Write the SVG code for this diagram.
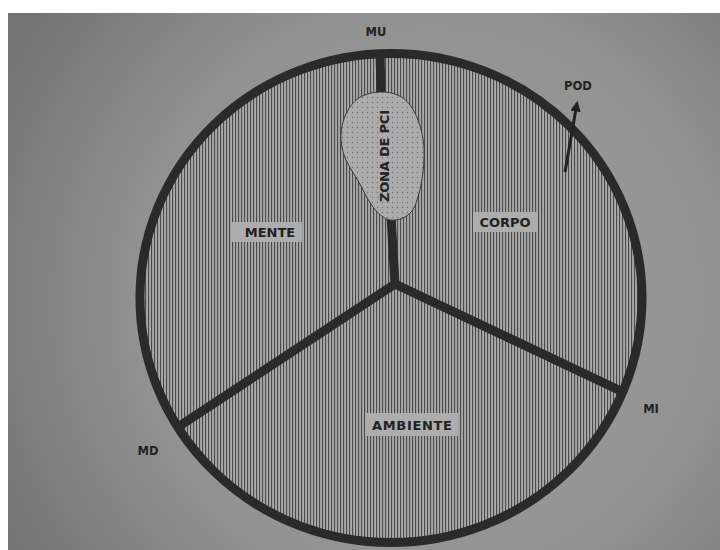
<svg xmlns="http://www.w3.org/2000/svg" width="720" height="550" viewBox="0 0 720 550">
  <defs>
    <radialGradient id="bg" cx="430" cy="300" r="480" gradientUnits="userSpaceOnUse">
      <stop offset="0" stop-color="#a0a0a0"/>
      <stop offset="0.6" stop-color="#929292"/>
      <stop offset="1" stop-color="#747474"/>
    </radialGradient>
    <pattern id="hatch" patternUnits="userSpaceOnUse" width="3" height="10">
      <rect width="3" height="10" fill="#a8a8a8"/>
      <rect x="1" width="1.1" height="10" fill="#4a4a4a"/>
    </pattern>
    <pattern id="dots" patternUnits="userSpaceOnUse" width="5" height="5">
      <rect width="5" height="5" fill="#acacac"/>
      <circle cx="2.5" cy="2.5" r="0.7" fill="#707070"/>
    </pattern>
    <marker id="arrow" viewBox="0 0 10 10" refX="8" refY="5" markerWidth="3.5" markerHeight="3.5" orient="auto">
      <path d="M0,0 L10,5 L0,10 Z" fill="#222222"/>
    </marker>
    <style>
      .sector { fill: url(#hatch); stroke: none; }
      .lbl { font-family: "DejaVu Sans", "Liberation Sans", sans-serif; font-weight: bold; font-size: 13px; fill: #222222; text-anchor: middle; }
      .small { font-size: 11.5px; }
      .box { fill: #adadad; }
      .div { stroke: #2a2a2a; stroke-width: 9; fill: none; stroke-linecap: butt; stroke-linejoin: round; }
    </style>
  </defs>

  <rect width="720" height="550" fill="#ffffff"/>
  <rect x="8" y="13" width="712" height="537" fill="url(#bg)"/>

  <g id="mente">
    <path class="sector" d="M395,284 L380,53 A251,244.5 0 0 0 178,427 Z"/>
    <rect class="box" x="232" y="222" width="70" height="20"/>
    <text class="lbl" x="270" y="237">MENTE</text>
  </g>
  <g id="corpo">
    <path class="sector" d="M395,284 L380,53 A251,244.5 0 0 1 623,392 Z"/>
    <rect class="box" x="473" y="212" width="64" height="20"/>
    <text class="lbl" x="505" y="227">CORPO</text>
  </g>
  <g id="ambiente">
    <path class="sector" d="M395,284 L623,392 A251,244.5 0 0 1 178,427 Z"/>
    <rect class="box" x="365" y="413" width="93" height="23"/>
    <text class="lbl" x="412" y="430" textLength="80">AMBIENTE</text>
  </g>

  <g id="connectors">
    <ellipse cx="391" cy="298" rx="251" ry="244.5" fill="none" stroke="#2a2a2a" stroke-width="9"/>
    <path class="div" d="M380,52 L381,96"/>
    <path class="div" d="M391,216 L395,284"/>
    <path class="div" d="M178,427 L395,284 L623,392"/>
    <line x1="565" y1="172" x2="577" y2="103" stroke="#222222" stroke-width="3" marker-end="url(#arrow)"/>
  </g>

  <g id="zona-pci">
    <path d="M383,92 C392,92 398,95 403,98 C414,106 422,125 424,147 C425,170 420,195 414,208 C408,218 398,221 390,220 C380,218 370,205 362,188 C354,172 342,160 341,140 C340,120 350,100 365,95 C372,92 378,92 383,92 Z" fill="url(#dots)" stroke="#3a3a3a" stroke-width="1"/>
    <text class="lbl" x="0" y="0" transform="translate(389,156) rotate(-90)" style="font-size:13px" textLength="92">ZONA DE PCI</text>
  </g>

  <g id="mu"><text class="lbl small" x="376" y="36">MU</text></g>
  <g id="pod"><text class="lbl small" x="578" y="90">POD</text></g>
  <g id="md"><text class="lbl small" x="148" y="455">MD</text></g>
  <g id="mi"><text class="lbl small" x="651" y="413">MI</text></g>
</svg>
